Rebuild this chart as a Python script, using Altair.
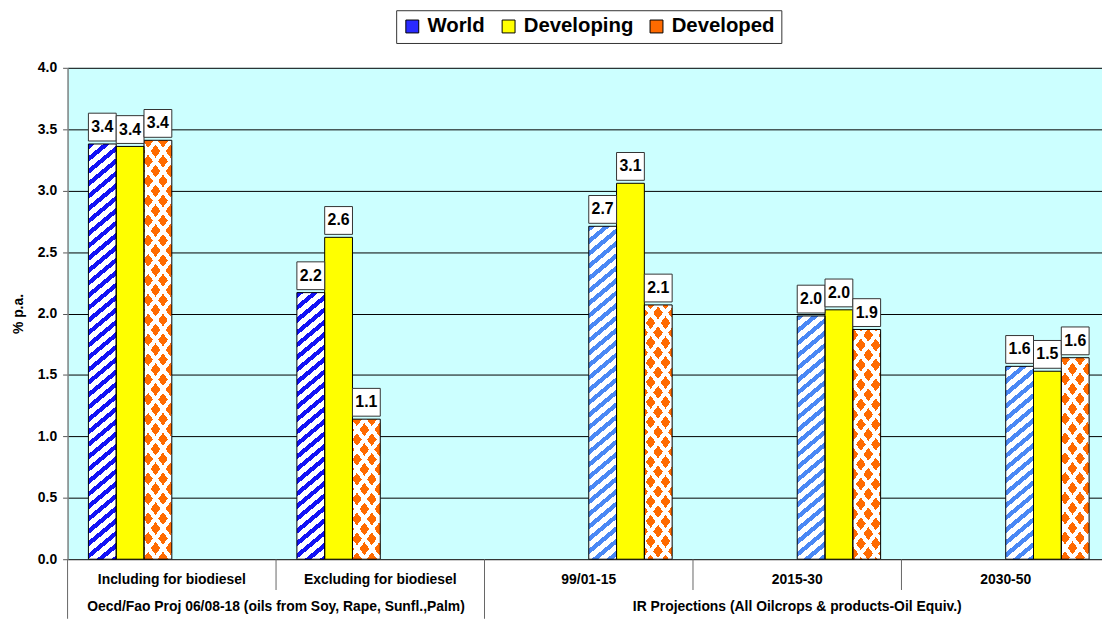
import math
import altair as alt
import pandas as pd

# ---------------- data ----------------
groups = ["Including for biodiesel", "Excluding for biodiesel", "99/01-15", "2015-30", "2030-50"]
super_labels = ["Oecd/Fao Proj 06/08-18 (oils from Soy, Rape, Sunfl.,Palm)",
                "IR Projections (All Oilcrops & products-Oil Equiv.)"]
super_start = [0, 2]
super_end = [2, 5]
series = ["World", "Developing", "Developed"]
world = [3.38, 2.17, 2.71, 1.98, 1.57]
developing = [3.36, 2.62, 3.06, 2.03, 1.53]
developed = [3.41, 1.14, 2.07, 1.87, 1.64]

# ---------------- layout / style ----------------
W, H = 1050, 495
YMAX = 4.0
SLOTS = 6
PAD_SLOTS = 0.75
SLOT_W = 1.0 / (SLOTS + 2 * PAD_SLOTS)      # in group units
BAR_PX = W / len(groups) * SLOT_W
FONT = "Liberation Sans"
BLUE_DARK = "#1212F5"
BLUE_LIGHT = "#4A88F5"
YELLOW = "#FFFF00"
ORANGE = "#FF6A00"
WHITE = "#FFFFFF"
CLEAR = "rgba(255,255,255,0)"

rows = []
vals = {"World": world, "Developing": developing, "Developed": developed}
for gi, g in enumerate(groups):
    base_slot = 0 if gi < 2 else 3
    for si, s in enumerate(series):
        slot = base_slot + si
        x0 = gi + (PAD_SLOTS + slot) * SLOT_W
        rows.append(dict(group=g, gi=gi, series=s, si=si, value=vals[s][gi],
                         x0=x0, x1=x0 + SLOT_W, xc=x0 + SLOT_W / 2))
df = pd.DataFrame(rows)

sep_df = pd.DataFrame({"pos": [0, 1, 2, 3, 4, 5],
                       "long": [True, False, True, False, False, True]})
glab_df = pd.DataFrame({"pos": [i + 0.5 for i in range(len(groups))], "label": groups})
slab_df = pd.DataFrame({"pos": [(a + b) / 2 for a, b in zip(super_start, super_end)],
                        "label": super_labels})

xs = alt.Scale(domain=[0, len(groups)], nice=False, zero=False)
ys = alt.Scale(domain=[0, YMAX], nice=False)

yaxis = alt.Axis(values=[i * 0.5 for i in range(9)], format=".1f", title="% p.a.",
                 labelFont=FONT, labelFontSize=14, labelFontWeight="bold", labelColor="black",
                 labelPadding=6, tickSize=5, tickColor="#555555", domainColor="#808080",
                 domainWidth=1.5, grid=True, gridColor="black", gridWidth=1,
                 titleFont=FONT, titleFontSize=14, titleFontWeight="bold", titleColor="black",
                 titlePadding=12)
Y = alt.Y("value:Q", scale=ys, axis=yaxis)


def stripes(gid, w, h, s, period, frac, c_on, c_off, back=False):
    L = w + s * h
    k = L / (w * w + s * s * h * h)
    if back:
        x1, y1, x2, y2 = 0, 1, k * w, 1 - k * s * h
    else:
        x1, y1, x2, y2 = 0, 0, k * w, k * s * h
    step = period / L
    stops = []
    i = 0
    while i * step < 1:
        a = i * step
        b = min(a + frac * step, 1.0)
        c = min((i + 1) * step, 1.0)
        stops += [(a, c_on), (b, c_on), (b, c_off), (c, c_off)]
        i += 1
    return {"gradient": "linear", "id": gid, "x1": x1, "y1": y1, "x2": x2, "y2": y2,
            "stops": [{"offset": round(o, 5), "color": col} for o, col in stops]}


def bar_enc(ch):
    return ch.encode(
        x=alt.X("x0:Q", scale=xs, axis=None),
        x2="x1:Q",
        y=Y,
        y2=alt.datum(0),
    )


layers = []

# World bars: diagonal blue stripes
for gi in range(len(groups)):
    v = world[gi]
    hpx = v / YMAX * H
    col = BLUE_DARK if gi < 2 else BLUE_LIGHT
    grad = stripes(f"gw{gi}", BAR_PX, hpx, 1.2, 15.0, 0.45, col, WHITE)
    ch = alt.Chart(df).transform_filter(
        (alt.datum.series == "World") & (alt.datum.gi == gi)).mark_bar(fill=grad, strokeWidth=0)
    layers.append(bar_enc(ch))

# Developing bars: solid yellow, carries the legend
legend = alt.Legend(orient="none", legendX=331, legendY=-58, direction="horizontal", title=None,
                    labelFont=FONT, labelFontSize=20.5, labelFontWeight="bold", labelColor="black",
                    symbolType="square", symbolSize=169, symbolStrokeColor="black",
                    symbolStrokeWidth=1, symbolOpacity=1, columnPadding=13, labelOffset=5,
                    padding=6, strokeColor="#333333", fillColor="white")
dev_ch = alt.Chart(df).transform_filter(alt.datum.series == "Developing").mark_bar(strokeWidth=0).encode(
    x=alt.X("x0:Q", scale=xs, axis=None),
    x2="x1:Q",
    y=Y,
    y2=alt.datum(0),
    fill=alt.Fill("series:N", scale=alt.Scale(domain=series, range=["#2A2AFF", YELLOW, ORANGE]),
                  legend=legend),
)
layers.append(dev_ch)

# Developed bars: orange diamonds on white (two crossing stripe layers)
for gi in range(len(groups)):
    v = developed[gi]
    hpx = v / YMAX * H
    g1 = stripes(f"gd{gi}a", BAR_PX, hpx, 0.75, 15.0, 0.65, ORANGE, WHITE)
    g2 = stripes(f"gd{gi}b", BAR_PX, hpx, 0.75, 15.0, 0.65, CLEAR, WHITE, back=True)
    flt = (alt.datum.series == "Developed") & (alt.datum.gi == gi)
    layers.append(bar_enc(alt.Chart(df).transform_filter(flt).mark_bar(fill=g1, strokeWidth=0)))
    layers.append(bar_enc(alt.Chart(df).transform_filter(flt).mark_bar(fill=g2, strokeWidth=0)))

# outlines
layers.append(bar_enc(alt.Chart(df).mark_bar(fillOpacity=0, stroke="black", strokeWidth=1)))

# value label boxes + text
lab_enc = dict(x=alt.X("xc:Q", scale=xs, axis=None), y=Y)
layers.append(alt.Chart(df).mark_point(shape="square", size=784, filled=True, fill="white",
                                       stroke="#333333", strokeWidth=1, opacity=1,
                                       yOffset=-17).encode(**lab_enc))
layers.append(alt.Chart(df).mark_text(font=FONT, fontSize=16, fontWeight="bold", color="black",
                                      baseline="middle", align="center", yOffset=-17).encode(
    text=alt.Text("value:Q", format=".1f"), **lab_enc))

# category axis decorations
layers.append(alt.Chart(sep_df).transform_filter(alt.datum.long == False).mark_rule(
    color="#666666", strokeWidth=1).encode(
    x=alt.X("pos:Q", scale=xs, axis=None), y=alt.value(H), y2=alt.value(H + 31)))
layers.append(alt.Chart(sep_df).transform_filter(alt.datum.long == True).mark_rule(
    color="#666666", strokeWidth=1).encode(
    x=alt.X("pos:Q", scale=xs, axis=None), y=alt.value(H), y2=alt.value(H + 60)))
layers.append(alt.Chart(glab_df).mark_text(font=FONT, fontSize=14, fontWeight="bold",
                                           color="black", baseline="middle").encode(
    x=alt.X("pos:Q", scale=xs, axis=None), y=alt.value(H + 21), text="label:N"))
layers.append(alt.Chart(slab_df).mark_text(font=FONT, fontSize=14, fontWeight="bold",
                                           color="black", baseline="middle").encode(
    x=alt.X("pos:Q", scale=xs, axis=None), y=alt.value(H + 48), text="label:N"))

chart = alt.layer(*layers).properties(
    width=W, height=H,
    autosize=alt.AutoSizeParams(type="none"),
    padding={"left": 60, "top": 58, "right": -8, "bottom": 60},
).configure(font=FONT).configure_view(fill="#CCFFFF", stroke=None)

chart.save("out.html", embed_options={"renderer": "svg", "actions": False})
